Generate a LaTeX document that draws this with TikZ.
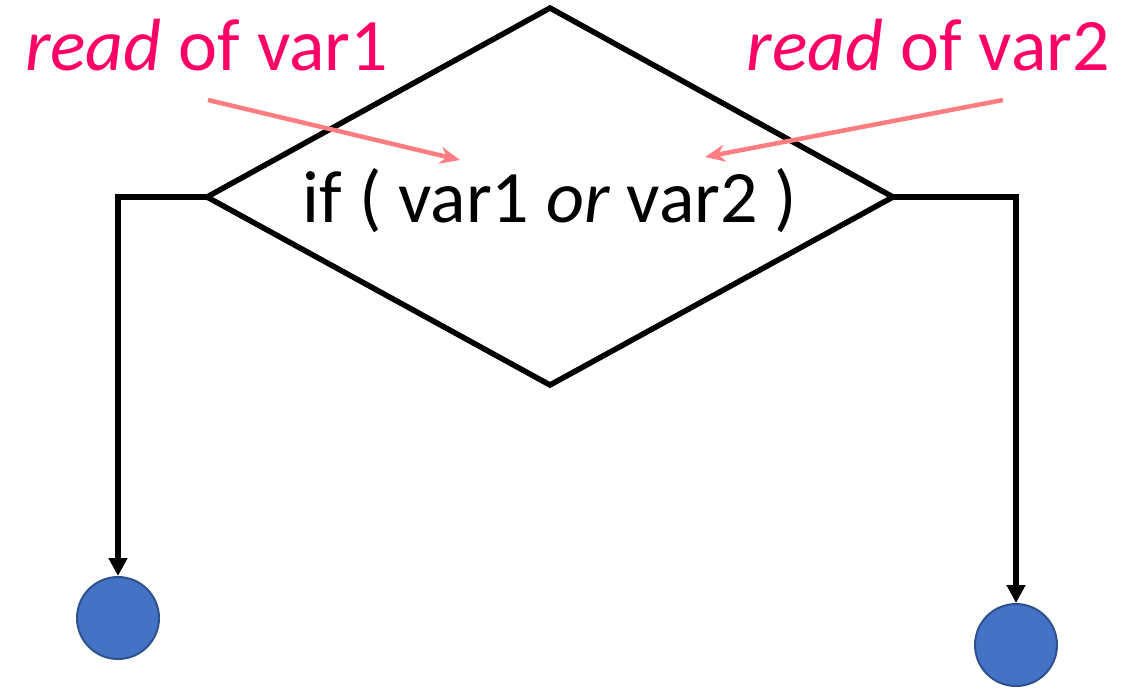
\documentclass[tikz,border=0pt]{standalone}
\usepackage{fontspec}
\setmainfont{Carlito}
\usetikzlibrary{arrows.meta}
\definecolor{labelpink}{HTML}{FF0066}
\definecolor{arrowpink}{HTML}{FF7C80}
\definecolor{dotfill}{HTML}{4472C4}
\definecolor{dotline}{HTML}{2F528F}
\tikzset{
  flow/.style={line width=5.5pt,-{Triangle[length=18pt,width=18pt]}},
  readarrow/.style={line width=4.5pt,arrowpink,-{Stealth[length=20pt,width=17pt]}},
  readlabel/.style={text=labelpink,font=\fontsize{74}{76}\selectfont,inner sep=0pt,anchor=base west},
  endpt/.style={circle,fill=dotfill,draw=dotline,line width=2pt,minimum size=82pt,inner sep=0pt},
}
\begin{document}
\begin{tikzpicture}[x=1pt,y=-1pt]
\useasboundingbox (0,0) rectangle (1142,689);
\coordinate (top) at (550,8);
\coordinate (lft) at (207,197);
\coordinate (rgt) at (893,197);
\coordinate (bot) at (550,385);
\draw[line width=5.5pt,line join=miter] (top) -- (rgt) -- (bot) -- (lft) -- cycle;
\node[font=\fontsize{74}{76}\selectfont,inner sep=0pt,anchor=base] (cond) at (550,222) {if ( var1 \textit{or} var2 )};
\node[endpt] (e1) at (118,618) {};
\node[endpt] (e2) at (1016,645) {};
\draw[flow] (lft) -- (118,197) -- (e1.north);
\draw[flow] (rgt) -- (1016,197) -- (e2.north);
\node[readlabel] (r1) at (25,70) {\textit{read} of var1};
\node[readlabel,anchor=base east] (r2) at (1110,70) {\textit{read} of var2};
\coordinate (s1) at (208,100);
\coordinate (t1) at (460,160);
\coordinate (s2) at (1003,100);
\coordinate (t2) at (705,157);
\draw[readarrow] (s1) -- (t1);
\draw[readarrow] (s2) -- (t2);
\end{tikzpicture}
\end{document}
